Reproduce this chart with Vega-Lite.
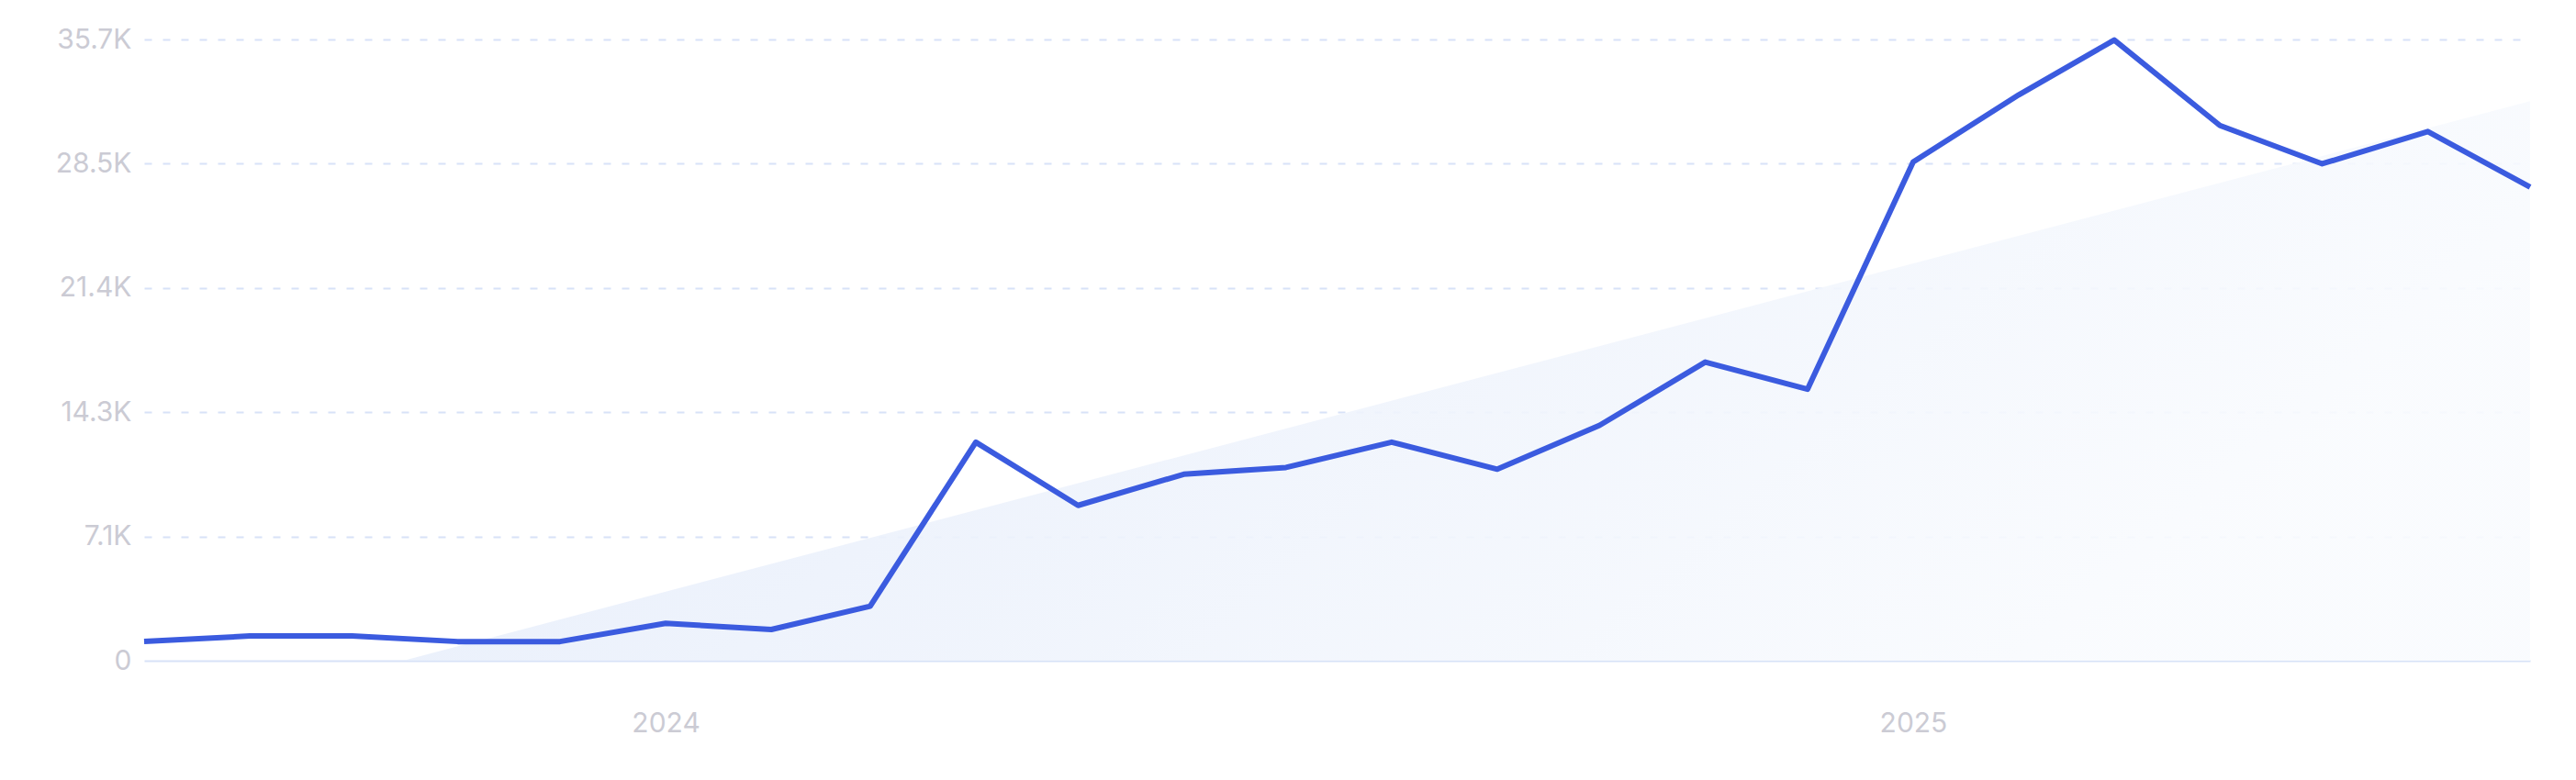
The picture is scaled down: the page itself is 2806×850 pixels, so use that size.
{
  "$schema": "https://vega.github.io/schema/vega-lite/v6.json",
  "width": 2599,
  "height": 677,
  "autosize": {"type": "none"},
  "padding": {"left": 157, "top": 43, "right": 50, "bottom": 130},
  "background": "#ffffff",
  "config": {
    "view": {"stroke": null},
    "font": "Inter",
    "axis": {"labelFont": "Inter", "labelColor": "#cbcbd4", "labelFontSize": 30}
  },
  "datasets": {
    "monthly": [
      {"month": "2023-08-01", "value": 1106},
      {"month": "2023-09-01", "value": 1420},
      {"month": "2023-10-01", "value": 1420},
      {"month": "2023-11-01", "value": 1100},
      {"month": "2023-12-01", "value": 1100},
      {"month": "2024-01-01", "value": 2150},
      {"month": "2024-02-01", "value": 1790},
      {"month": "2024-03-01", "value": 3130},
      {"month": "2024-04-01", "value": 12550},
      {"month": "2024-05-01", "value": 8920},
      {"month": "2024-06-01", "value": 10710},
      {"month": "2024-07-01", "value": 11100},
      {"month": "2024-08-01", "value": 12550},
      {"month": "2024-09-01", "value": 11000},
      {"month": "2024-10-01", "value": 13520},
      {"month": "2024-11-01", "value": 17150},
      {"month": "2024-12-01", "value": 15590},
      {"month": "2025-01-01", "value": 28640},
      {"month": "2025-02-01", "value": 32500},
      {"month": "2025-03-01", "value": 35650},
      {"month": "2025-04-01", "value": 30740},
      {"month": "2025-05-01", "value": 28540},
      {"month": "2025-06-01", "value": 30390},
      {"month": "2025-07-01", "value": 27200}
    ],
    "trend": [
      {"month": "2023-10-16", "value": 0},
      {"month": "2025-07-01", "value": 32130}
    ]
  },
  "layer": [
    {
      "data": {"name": "trend"},
      "mark": {
        "type": "area",
        "fill": {
          "gradient": "linear",
          "x1": 0, "y1": 0, "x2": 1, "y2": 0.3,
          "stops": [
            {"offset": 0, "color": "#e3ebfa"},
            {"offset": 1, "color": "#f9fbfe"}
          ]
        },
        "opacity": 0.9
      },
      "encoding": {
        "x": {
          "field": "month",
          "type": "temporal",
          "scale": {
            "type": "utc",
            "domain": [
              {"year": 2023, "month": 8, "date": 1, "utc": true},
              {"year": 2025, "month": 7, "date": 1, "utc": true}
            ]
          },
          "axis": {
            "title": null,
            "grid": false,
            "ticks": false,
            "tickSize": 0,
            "domainColor": "#d7e2f7",
            "domainWidth": 2,
            "labelPadding": 53,
            "labelBaseline": "top",
            "format": "%Y",
            "values": [
              {"year": 2024, "month": 1, "date": 1, "utc": true},
              {"year": 2025, "month": 1, "date": 1, "utc": true}
            ]
          }
        },
        "y": {
          "field": "value",
          "type": "quantitative",
          "scale": {"domain": [0, 35680], "nice": false},
          "axis": {
            "title": null,
            "domain": false,
            "ticks": false,
            "tickSize": 0,
            "labelPadding": 14,
            "labelBaseline": "middle",
            "values": [0, 7136, 14272, 21408, 28544, 35680],
            "labelExpr": "datum.value == 0 ? '0' : format(datum.value / 1000, '.1f') + 'K'",
            "gridColor": "#d8e2f8",
            "gridWidth": 2,
            "gridDash": [8, 12],
            "gridOpacity": {"condition": {"test": "datum.value === 0", "value": 0}, "value": 1}
          }
        }
      }
    },
    {
      "data": {"name": "monthly"},
      "mark": {
        "type": "line",
        "color": "#3b5bdf",
        "strokeWidth": 6,
        "strokeJoin": "round",
        "strokeCap": "butt"
      },
      "encoding": {
        "x": {"field": "month", "type": "temporal"},
        "y": {"field": "value", "type": "quantitative"}
      }
    }
  ]
}
